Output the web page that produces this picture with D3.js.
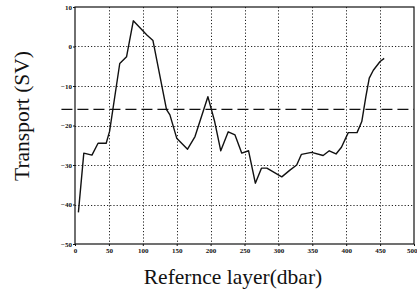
<!DOCTYPE html>
<html>
<head>
<meta charset="utf-8">
<script src="https://cdn.jsdelivr.net/npm/d3@7"></script>
<style>
  body { margin: 0; background: #fff; }
  svg { display: block; }
</style>
</head>
<body>
<svg id="chart" width="417" height="295"></svg>
<script>
// reference layer (dbar) and transport (Sv)
const depth = [5, 13, 25, 34, 46, 51, 66, 76, 86, 106, 115, 135, 140, 150, 166, 177, 196, 206, 215, 226, 236, 246, 256, 266, 275, 283, 305, 317, 327, 334, 349, 366, 375, 385, 393, 403, 416, 423, 429, 434, 440, 450, 456];
const transport = [-42, -27, -27.5, -24.5, -24.5, -21.5, -4.3, -2.6, 6.5, 2.9, 1.5, -16, -17.3, -23.2, -26, -22.8, -12.7, -19, -26.4, -21.6, -22.4, -27, -26.4, -34.6, -30.8, -30.8, -33, -31.3, -30, -27.3, -26.8, -27.6, -26.4, -27.2, -25.5, -21.8, -21.8, -19, -12.7, -8, -6, -3.8, -3];
const meanLevel = -15.9;

const xTicks = [0, 50, 100, 150, 200, 250, 300, 350, 400, 450, 500];
const yTicks = [10, 0, -10, -20, -30, -40, -50];

const svg = d3.select("#chart");
const plot = {left: 75, right: 414, top: 7, bottom: 244};

const x = d3.scaleLinear().domain([0, 500]).range([plot.left, plot.right]);
const y = d3.scaleLinear().domain([-50, 10]).range([plot.bottom, plot.top]);

// dotted grid
const grid = svg.append("g")
  .attr("stroke", "#222")
  .attr("stroke-width", 1)
  .attr("stroke-dasharray", "1.2,2");
grid.selectAll("line.v")
  .data(xTicks.slice(1, -1))
  .join("line")
  .attr("class", "v")
  .attr("x1", d => Math.round(x(d)) + 0.5).attr("x2", d => Math.round(x(d)) + 0.5)
  .attr("y1", plot.top).attr("y2", plot.bottom);
grid.selectAll("line.h")
  .data(yTicks.slice(1, -1))
  .join("line")
  .attr("class", "h")
  .attr("x1", plot.left).attr("x2", plot.right)
  .attr("y1", d => Math.round(y(d)) + 0.5).attr("y2", d => Math.round(y(d)) + 0.5);

// frame
svg.append("rect")
  .attr("x", plot.left).attr("y", plot.top)
  .attr("width", plot.right - plot.left).attr("height", plot.bottom - plot.top)
  .attr("fill", "none").attr("stroke", "#111").attr("stroke-width", 1.2);

// axes (labels only, the frame carries the lines)
const xAxis = svg.append("g")
  .attr("transform", `translate(0,${plot.bottom})`)
  .call(d3.axisBottom(x).tickValues(xTicks).tickSize(2).tickPadding(2));
const yAxis = svg.append("g")
  .attr("transform", `translate(${plot.left},0)`)
  .call(d3.axisLeft(y).tickValues(yTicks).tickSize(2).tickPadding(1));
[xAxis, yAxis].forEach(g => {
  g.select(".domain").remove();
  g.selectAll("line").attr("stroke", "#111");
  g.selectAll("text")
    .attr("font-family", "Liberation Serif, serif")
    .attr("font-size", 7)
    .attr("font-weight", "bold")
    .attr("fill", "#111");
});
// last x label sits at the page edge, keep it inside
xAxis.selectAll(".tick:last-of-type text").attr("text-anchor", "end").attr("dx", 3);

// mean level, long dashes
svg.append("line")
  .attr("x1", x(-20)).attr("x2", x(500))
  .attr("y1", y(meanLevel)).attr("y2", y(meanLevel))
  .attr("stroke", "#111").attr("stroke-width", 1.3)
  .attr("stroke-dasharray", "11,5");

// transport curve
const line = d3.line()
  .x((d, i) => x(depth[i]))
  .y(d => y(d));
svg.append("path")
  .datum(transport)
  .attr("d", line)
  .attr("fill", "none")
  .attr("stroke", "#111")
  .attr("stroke-width", 1.4)
  .attr("stroke-linejoin", "round");

// titles
svg.append("text")
  .attr("x", 233).attr("y", 284)
  .attr("text-anchor", "middle")
  .attr("font-family", "Liberation Serif, serif")
  .attr("font-size", 21.5)
  .attr("fill", "#111")
  .text("Refernce layer(dbar)");

svg.append("text")
  .attr("transform", "translate(29,116) rotate(-90)")
  .attr("text-anchor", "middle")
  .attr("font-family", "Liberation Serif, serif")
  .attr("font-size", 21.5)
  .attr("fill", "#111")
  .text("Transport (SV)");
</script>
</body>
</html>
